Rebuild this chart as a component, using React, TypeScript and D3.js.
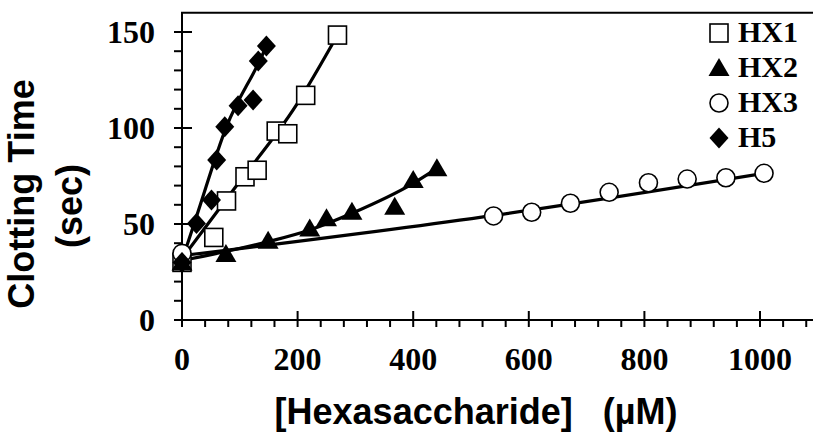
import React from "react";
import * as d3 from "d3";

const hx1X = [0, 55, 77, 109, 130, 163, 183, 214, 269];
const hx1Y = [30, 43, 62, 74.6, 78, 98.4, 97, 117, 148.4];
const hx2X = [0, 76, 149, 221, 250, 294, 368, 400, 441];
const hx2Y = [30, 34.4, 41.3, 47.7, 53, 56.4, 59, 72.9, 79];
const hx3X = [0, 539, 605, 672, 739, 807, 874, 941, 1007];
const hx3Y = [34.7, 54.2, 56.1, 60.8, 66.5, 71.5, 73.4, 74.1, 76.4];
const h5X = [0, 25, 51, 60, 74, 97, 123, 132, 146];
const h5Y = [30, 50.3, 62.5, 83.3, 100.7, 111.6, 114.6, 134.9, 142.7];

const hx1FitX = [0, 92, 198, 269];
const hx1FitY = [32, 69, 112, 148.4];
const hx2FitX = [0, 149, 221, 294, 400, 441];
const hx2FitY = [31, 40.8, 46.9, 55.6, 71.2, 79];
const hx3FitX = [0, 540, 1007];
const hx3FitY = [33.5, 54.5, 76.4];
const h5FitX = [0, 25, 77, 135, 146];
const h5FitY = [31, 53.8, 100.7, 135.4, 142.5];

const xMajor = [0, 200, 400, 600, 800, 1000];
const yMajor = [0, 50, 100, 150];
const legendLabels = ["HX1", "HX2", "HX3", "H5"];

const SERIF = "'Liberation Serif', 'Times New Roman', serif";
const SANS = "'Liberation Sans', Arial, sans-serif";

type Shape = "square" | "triangle" | "circle" | "diamond";

function Marker({ shape, cx, cy }: { shape: Shape; cx: number; cy: number }) {
  if (shape === "square")
    return <rect x={cx - 9} y={cy - 9} width={18} height={18} fill="#fff" stroke="#000" strokeWidth={1.6} />;
  if (shape === "circle")
    return <circle cx={cx} cy={cy} r={9} fill="#fff" stroke="#000" strokeWidth={1.6} />;
  if (shape === "triangle")
    return <path d={`M${cx},${cy - 10}L${cx + 10.5},${cy + 8}L${cx - 10.5},${cy + 8}Z`} fill="#000" />;
  return <path d={`M${cx},${cy - 10.5}L${cx + 9.5},${cy}L${cx},${cy + 10.5}L${cx - 9.5},${cy}Z`} fill="#000" />;
}

export default function App() {
  const x = d3.scaleLinear().domain([0, 1120]).range([182, 182 + 1120 * 0.578]);
  const y = d3.scaleLinear().domain([0, 160]).range([320, 320 - 160 * 1.92]);
  const xMinor = d3.range(0, 1081, 40).filter((v) => v % 200 !== 0);
  const yMinor = d3.range(0, 151, 10).filter((v) => v % 50 !== 0);

  const line = d3
    .line<[number, number]>()
    .x((d) => x(d[0]))
    .y((d) => y(d[1]))
    .curve(d3.curveMonotoneX);
  const zip = (a: number[], b: number[]) => a.map((v, i) => [v, b[i]] as [number, number]);

  const fits = [
    zip(hx1FitX, hx1FitY),
    zip(hx2FitX, hx2FitY),
    zip(hx3FitX, hx3FitY),
    zip(h5FitX, h5FitY),
  ];
  const series: { shape: Shape; pts: [number, number][] }[] = [
    { shape: "square", pts: zip(hx1X, hx1Y) },
    { shape: "circle", pts: zip(hx3X, hx3Y) },
    { shape: "triangle", pts: zip(hx2X, hx2Y) },
    { shape: "diamond", pts: zip(h5X, h5Y) },
  ];
  const legendShapes: Shape[] = ["square", "triangle", "circle", "diamond"];

  return (
    <svg width={813} height={434} style={{ position: "absolute", left: 0, top: 0, background: "#fff" }}>
      {/* axes */}
      <line x1={x(0)} x2={813} y1={y(0)} y2={y(0)} stroke="#000" strokeWidth={2} />
      <line x1={x(0)} x2={x(0)} y1={y(0)} y2={y(160)} stroke="#000" strokeWidth={2} />
      <line x1={x(0) - 1} x2={813} y1={y(160)} y2={y(160)} stroke="#000" strokeWidth={2} />
      {xMajor.map((v) => (
        <line key={"xM" + v} x1={x(v)} x2={x(v)} y1={311} y2={327} stroke="#000" strokeWidth={2} />
      ))}
      {xMinor.map((v) => (
        <line key={"xm" + v} x1={x(v)} x2={x(v)} y1={320} y2={327} stroke="#000" strokeWidth={2} />
      ))}
      {yMajor.map((v) => (
        <line key={"yM" + v} x1={174} x2={192} y1={y(v)} y2={y(v)} stroke="#000" strokeWidth={2} />
      ))}
      {yMinor.map((v) => (
        <line key={"ym" + v} x1={174} x2={182} y1={y(v)} y2={y(v)} stroke="#000" strokeWidth={2} />
      ))}
      {xMajor.map((v) => (
        <text key={"xt" + v} x={x(v)} y={370} textAnchor="middle" fontFamily={SERIF} fontWeight="bold" fontSize={32}>
          {v}
        </text>
      ))}
      {yMajor.map((v) => (
        <text key={"yt" + v} x={155} y={y(v) + 11} textAnchor="end" fontFamily={SERIF} fontWeight="bold" fontSize={32}>
          {v}
        </text>
      ))}
      {/* axis titles */}
      <text
        transform="translate(34,194) rotate(-90)"
        textAnchor="middle"
        fontFamily={SANS}
        fontWeight="bold"
        fontSize={36}
      >
        Clotting Time
      </text>
      <text
        transform="translate(82,206) rotate(-90)"
        textAnchor="middle"
        fontFamily={SANS}
        fontWeight="bold"
        fontSize={36}
      >
        (sec)
      </text>
      <text
        x={476}
        y={424}
        textAnchor="middle"
        fontFamily={SANS}
        fontWeight="bold"
        fontSize={36}
        style={{ whiteSpace: "pre" }}
      >
        {"[Hexasaccharide]   (µM)"}
      </text>
      {/* fit lines */}
      {fits.map((f, i) => (
        <path key={"f" + i} d={line(f) || ""} fill="none" stroke="#000" strokeWidth={3.2} />
      ))}
      {/* markers */}
      {series.map((s, i) =>
        s.pts.map((p, j) => <Marker key={`m${i}-${j}`} shape={s.shape} cx={x(p[0])} cy={y(p[1])} />)
      )}
      {/* legend */}
      {legendLabels.map((lab, i) => (
        <g key={"lg" + i}>
          <Marker shape={legendShapes[i]} cx={719} cy={33 + 35 * i} />
          <text x={738} y={42 + 35 * i} fontFamily={SERIF} fontWeight="bold" fontSize={30}>
            {lab}
          </text>
        </g>
      ))}
    </svg>
  );
}
